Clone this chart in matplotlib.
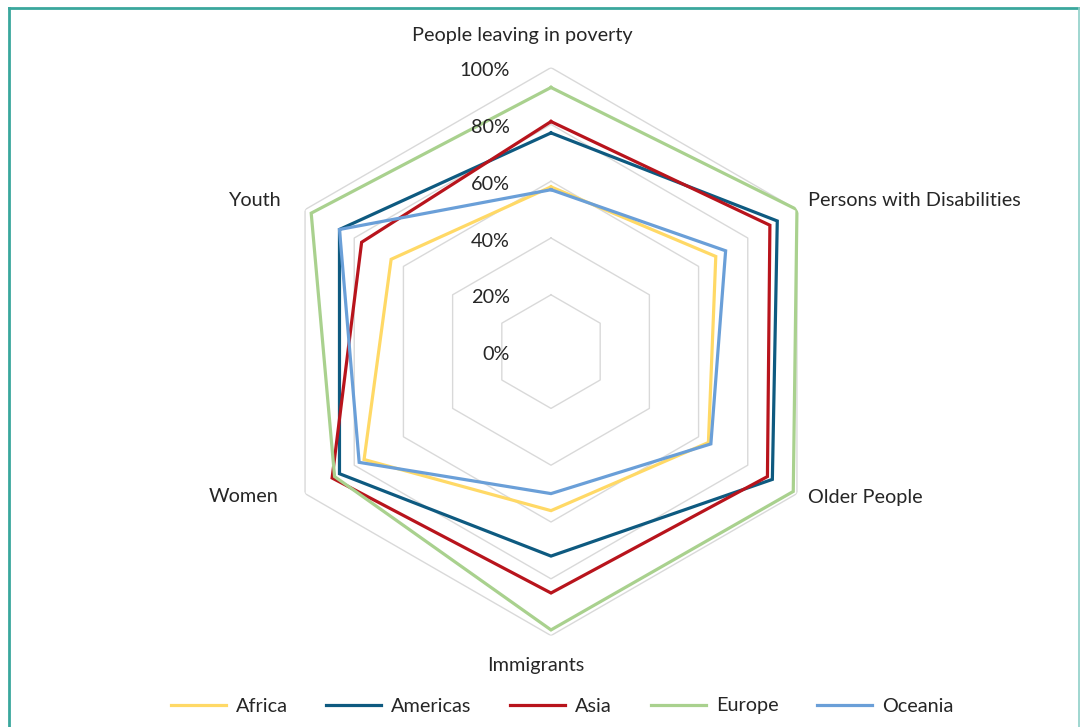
"""
Radar chart: share of groups reached, by region.
"""

import matplotlib.pyplot as plt
import numpy as np
from matplotlib.lines import Line2D
from matplotlib.transforms import ScaledTranslation

plt.rcParams['font.family'] = ['Lato', 'DejaVu Sans']

categories = [
    'People leaving in poverty',
    'Persons with Disabilities',
    'Older People',
    'Immigrants',
    'Women',
    'Youth',
]
africa = [0.58, 0.67, 0.64, 0.56, 0.76, 0.65]
americas = [0.77, 0.92, 0.90, 0.72, 0.86, 0.86]
asia = [0.81, 0.89, 0.88, 0.85, 0.89, 0.77]
europe = [0.93, 1.00, 0.985, 0.98, 0.88, 0.975]
oceania = [0.57, 0.71, 0.65, 0.50, 0.78, 0.86]

series_names = ['Africa', 'Americas', 'Asia', 'Europe', 'Oceania']
series_values = [africa, americas, asia, europe, oceania]
colors = ['#FFD966', '#0E5A80', '#B8141C', '#A9D18E', '#6A9FD8']

levels = [0.0, 0.2, 0.4, 0.6, 0.8, 1.0]
level_labels = ['0%', '20%', '40%', '60%', '80%', '100%']

TEXT = '#262626'
FS = 14.3
W, H = 1080, 727

fig = plt.figure(figsize=(W / 100, H / 100), dpi=100)
cx, cy, R = 551, 351.6, 284
ax = fig.add_axes([(cx - R) / W, (H - cy - R) / H, 2 * R / W, 2 * R / H],
                  projection='polar')
ax.set_theta_offset(np.pi / 2)
ax.set_theta_direction(-1)
ax.set_ylim(0, 1)
ax.grid(False)
ax.spines['polar'].set_visible(False)
ax.set_xticks([])
ax.set_yticks([])
ax.patch.set_alpha(0)

angles = np.linspace(0, 2 * np.pi, len(categories), endpoint=False)
closed = np.append(angles, angles[0])

# hexagonal grid (straight chords in polar axes)
for lev in levels[1:]:
    ax.plot(closed, [lev] * len(closed), color='#D9D9D9', lw=1.0, zorder=1)

for name, vals, col in zip(series_names, series_values, colors):
    ax.plot(closed, vals + vals[:1], color=col, lw=2.3, label=name,
            solid_joinstyle='miter', zorder=3)

# radial value labels along the top axis
shift = ax.transData + ScaledTranslation(-0.41, -0.03, fig.dpi_scale_trans)
for lev, lab in zip(levels, level_labels):
    ax.text(0, lev, lab, transform=shift, ha='right', va='center',
            fontsize=FS, color=TEXT, zorder=4)

# category labels
label_pos = [
    (522, 36, 'center'),
    (808, 201, 'left'),
    (808, 497, 'left'),
    (536, 666, 'center'),
    (278, 497, 'right'),
    (282, 201, 'right'),
]
for cat, (px, py, ha) in zip(categories, label_pos):
    fig.text(px / W, 1 - py / H, cat, ha=ha, va='center', fontsize=FS,
             color=TEXT)

fig.legend(loc='center', bbox_to_anchor=(562 / W, 1 - 706 / H), ncol=5,
           frameon=False, fontsize=FS, handlelength=2.77,
           handletextpad=0.5, columnspacing=1.95, labelcolor=TEXT)

# teal frame around the chart area
frame = '#3AA79D'
fig.add_artist(Line2D([8.5 / W, 8.5 / W], [0, 1 - 7.5 / H], color=frame,
                      lw=2, transform=fig.transFigure))
fig.add_artist(Line2D([8.5 / W, 1079 / W], [1 - 7.5 / H, 1 - 7.5 / H],
                      color=frame, lw=2, transform=fig.transFigure))
fig.add_artist(Line2D([1079 / W, 1079 / W], [0, 1 - 7.5 / H], color='#8FCFC8',
                      lw=1.2, transform=fig.transFigure))

fig.savefig('out.png', dpi=100)
